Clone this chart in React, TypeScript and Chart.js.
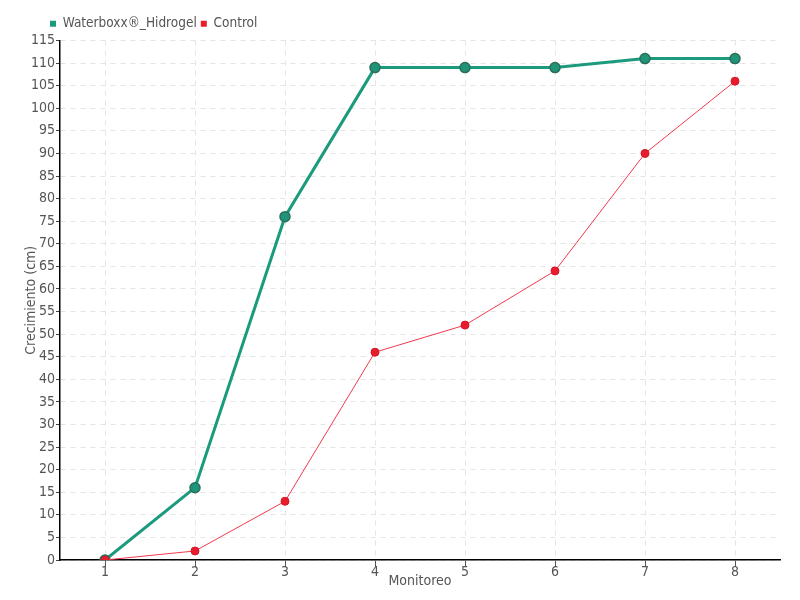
import React, { useEffect, useRef } from "react";
import { Chart, registerables } from "chart.js";

Chart.register(...registerables);

const categories = ["1", "2", "3", "4", "5", "6", "7", "8"];
const waterboxxValues = [0, 16, 76, 109, 109, 109, 111, 111];
const controlValues = [0, 2, 13, 46, 52, 64, 90, 106];
const seriesNames = ["Waterboxx®_Hidrogel", "Control"];
const xTitle = "Monitoreo";
const yTitle = "Crecimiento (cm)";

const FONT = "'DejaVu Sans Condensed', 'DejaVu Sans', sans-serif";

const legendShift = {
  id: "legendShift",
  afterLayout(chart: any) {
    if (chart.legend) {
      chart.legend.left += 46;
      chart.legend.right += 46;
    }
  },
};

export default function App() {
  const ref = useRef<HTMLCanvasElement | null>(null);
  useEffect(() => {
    if (!ref.current) return;
    const chart = new Chart(ref.current, {
      type: "line",
      data: {
        labels: categories,
        datasets: [
          {
            label: seriesNames[0],
            data: waterboxxValues,
            borderColor: "#1b9a7e",
            backgroundColor: "#1b9a7e",
            borderWidth: 3,
            pointRadius: 5,
            pointBackgroundColor: "#1f9478",
            pointBorderColor: "#2a6f5c",
            pointBorderWidth: 1.5,
            tension: 0,
            order: 2,
          },
          {
            label: seriesNames[1],
            data: controlValues,
            borderColor: "#f2394e",
            backgroundColor: "#e81c2c",
            borderWidth: 1,
            pointRadius: 4,
            pointBackgroundColor: "#e81c2c",
            pointBorderColor: "#d01828",
            pointBorderWidth: 1,
            tension: 0,
            order: 1,
          },
        ],
      },
      plugins: [legendShift],
      options: {
        animation: false,
        responsive: false,
        layout: { padding: { top: 13, right: 20, left: 0, bottom: 0 } },
        plugins: {
          tooltip: { enabled: false },
          legend: {
            position: "top",
            align: "start",
            labels: {
              boxWidth: 6,
              boxHeight: 6,
              padding: 4,
              color: "#555",
              font: { family: FONT, size: 13.5 },
              generateLabels: (c: any) =>
                c.data.datasets.map((d: any, i: number) => ({
                  text: d.label,
                  fillStyle: d.backgroundColor,
                  strokeStyle: d.backgroundColor,
                  lineWidth: 0,
                  hidden: false,
                  datasetIndex: i,
                  fontColor: "#555",
                })),
            },
          },
        },
        scales: {
          x: {
            offset: true,
            grid: {
              offset: false,
              color: "#e4e4e4",
              tickColor: "#555",
              tickLength: 7,
              tickBorderDash: [],
            } as any,
            border: { color: "#000", width: 1.5, dash: [5, 5] } as any,
            ticks: {
              color: "#555",
              padding: -3,
              font: { family: FONT, size: 14 },
            },
            title: {
              display: true,
              text: xTitle,
              color: "#555",
              font: { family: FONT, size: 14 },
              padding: { top: 0, bottom: 10 },
            },
            afterFit: (s: any) => {
              s.height = 40;
            },
          },
          y: {
            min: 0,
            max: 115,
            ticks: {
              stepSize: 5,
              color: "#555",
              padding: 1,
              font: { family: FONT, size: 14 },
            },
            grid: {
              color: "#e4e4e4",
              tickColor: "#444",
              tickLength: 4,
            } as any,
            border: { color: "#000", width: 1.5, dash: [5, 5] } as any,
            title: {
              display: true,
              text: yTitle,
              color: "#555",
              font: { family: FONT, size: 14 },
              padding: { top: 23, bottom: 0 },
            },
            afterFit: (s: any) => {
              s.width = 60;
            },
          },
        },
      },
    });
    return () => chart.destroy();
  }, []);
  return (
    <div style={{ position: "absolute", left: 0, top: 0, width: 800, height: 600, background: "#fff" }}>
      <canvas ref={ref} width={800} height={600} />
    </div>
  );
}
